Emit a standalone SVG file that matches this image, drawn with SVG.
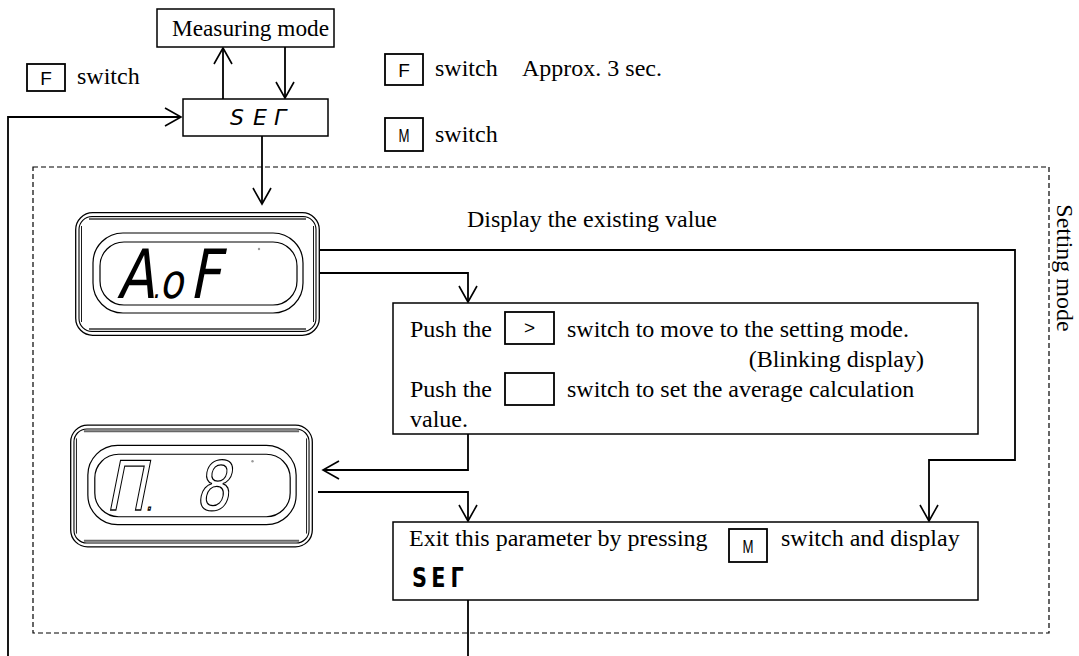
<svg xmlns="http://www.w3.org/2000/svg" width="1079" height="656" viewBox="0 0 1079 656">
<style>
.t{font-family:"Liberation Serif","Times New Roman",serif;font-size:24px;fill:#000}
.k{font-family:"Liberation Sans",Arial,sans-serif;font-size:19px;fill:#000}
.box{fill:#fff;stroke:#000;stroke-width:1.5}
.key{fill:#fff;stroke:#000;stroke-width:1.8}
.ln{fill:none;stroke:#000;stroke-width:1.8}
.seg{font-family:"DejaVu Sans",sans-serif}
</style>
<defs>
<marker id="arr" viewBox="-17 -10 19 20" refX="0" refY="0" markerWidth="19" markerHeight="20" markerUnits="userSpaceOnUse" orient="auto">
<path d="M-16,-9 L0,0 L-16,9" fill="none" stroke="#000" stroke-width="1.6"/>
</marker>
<symbol id="disp" viewBox="0 0 245 124">
<rect x="0.7" y="0.7" width="243.6" height="122.6" rx="17" fill="#fff" stroke="#000" stroke-width="1.3"/>
<rect x="4" y="4.5" width="237" height="115" rx="13" fill="none" stroke="#000" stroke-width="1.1"/>
<path d="M14,6.8 H231 M14,117.2 H231" stroke="#666" stroke-width="2.2" fill="none"/>
<path d="M6.5,14 V110 M238.5,14 V110" stroke="#000" stroke-width="0.9" fill="none"/>
<rect x="18" y="21" width="210" height="80" rx="30" fill="none" stroke="#000" stroke-width="1.2"/>
<rect x="25" y="30" width="197" height="63" rx="24" fill="none" stroke="#000" stroke-width="1.2"/>
<circle cx="184" cy="37" r="1.2" fill="#999"/>
</symbol>
</defs>
<rect width="1079" height="656" fill="#fff"/>

<g id="setting-mode">
<rect x="33" y="167" width="1016" height="466" fill="none" stroke="#000" stroke-width="1.2" stroke-dasharray="5 3"/>
<text class="t" transform="translate(1057,268) rotate(90)" text-anchor="middle">Setting mode</text>
</g>

<g id="connectors">
<path class="ln" d="M223,99 V48" marker-end="url(#arr)"/>
<path class="ln" d="M285,47 V98" marker-end="url(#arr)"/>
<path class="ln" d="M8,656 V117 H181" marker-end="url(#arr)"/>
<path class="ln" d="M262,136 V204" marker-end="url(#arr)"/>
<path class="ln" d="M320,250 H1015 V460 H929 V521" marker-end="url(#arr)"/>
<path class="ln" d="M320,273 H468 V302" marker-end="url(#arr)"/>
<path class="ln" d="M468,434 V470 H323" marker-end="url(#arr)"/>
<path class="ln" d="M318,492 H468 V521" marker-end="url(#arr)"/>
<path class="ln" d="M468,600 V656"/>
</g>

<g id="measuring-mode">
<rect class="box" x="157" y="9" width="177" height="38"/>
<text class="t" x="172" y="36" textLength="157" lengthAdjust="spacingAndGlyphs">Measuring mode</text>
</g>

<g id="f-switch-left">
<rect class="key" x="27" y="64" width="38" height="27"/>
<text class="k" x="46" y="84.5" text-anchor="middle">F</text>
<text class="t" x="77" y="84">switch</text>
</g>

<g id="f-switch-right">
<rect class="key" x="385" y="54" width="38" height="31"/>
<text class="k" x="404" y="76.5" text-anchor="middle">F</text>
<text class="t" x="435" y="76">switch<tspan x="522">Approx. 3 sec.</tspan></text>
</g>

<g id="m-switch">
<rect class="key" x="385" y="118" width="38" height="33"/>
<text class="k" x="404" y="141.5" text-anchor="middle" textLength="11" lengthAdjust="spacingAndGlyphs">M</text>
<text class="t" x="435" y="142">switch</text>
</g>

<g id="set-box">
<rect class="box" x="183" y="99" width="145" height="37"/>
<text class="seg" x="230 253 274" y="125" font-size="22" font-style="italic">SEΓ</text>
</g>

<g id="existing-label">
<text class="t" x="467" y="227">Display the existing value</text>
</g>

<g id="display-1">
<use href="#disp" x="75" y="212" width="245" height="124"/>
<text class="seg" transform="matrix(0.8 0 -0.2 1 117 298)" font-size="68"><tspan x="0">A</tspan><tspan x="44" font-size="30">.</tspan><tspan x="53" font-size="48">o</tspan><tspan x="90">F</tspan></text>
</g>

<g id="display-2">
<use href="#disp" x="70" y="424" width="243" height="124"/>
<text class="seg" transform="matrix(0.8 0 -0.2 1 110 510)" font-size="68" fill="#fff" stroke="#000" stroke-width="1.3"><tspan x="-6">Π</tspan><tspan font-size="24">.</tspan> <tspan x="106">8</tspan></text>
</g>

<g id="push-box">
<rect class="box" x="393" y="303" width="585" height="131"/>
<text class="t" x="410" y="337">Push the</text>
<rect class="key" x="505" y="312" width="49" height="32"/>
<text class="k" x="529.5" y="334" text-anchor="middle">&gt;</text>
<text class="t" x="567" y="337">switch to move to the setting mode.</text>
<text class="t" x="924" y="367" text-anchor="end">(Blinking display)</text>
<text class="t" x="410" y="397">Push the</text>
<rect class="key" x="505" y="373" width="49" height="32"/>
<text class="t" x="567" y="397">switch to set the average calculation</text>
<text class="t" x="410" y="427">value.</text>
</g>

<g id="exit-box">
<rect class="box" x="393" y="522" width="585" height="78"/>
<text class="t" x="409" y="546">Exit this parameter by pressing</text>
<rect class="key" x="729" y="529" width="38" height="33"/>
<text class="k" x="748" y="552.5" text-anchor="middle" textLength="11" lengthAdjust="spacingAndGlyphs">M</text>
<text class="t" x="781" y="546">switch and display</text>
<text class="seg" transform="translate(412,587) scale(0.8,1)" x="0 24 48" font-size="26" font-weight="bold">SEΓ</text>
</g>
</svg>
